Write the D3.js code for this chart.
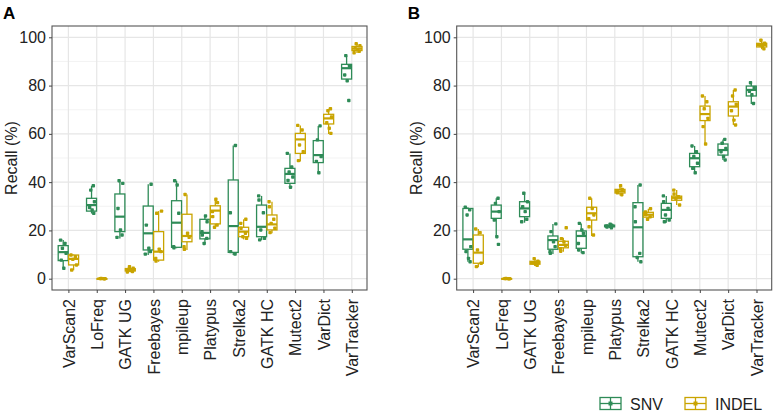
<!DOCTYPE html>
<html>
<head>
<meta charset="utf-8">
<script src="https://cdn.jsdelivr.net/npm/d3@7"></script>
<style>
  body { margin: 0; background: #fff; }
  svg { font-family: "Liberation Sans", Arial, sans-serif; }
</style>
</head>
<body>
<svg id="chart" width="775" height="414"></svg>
<script>
// Callers on the x axis
const tools = ['VarScan2', 'LoFreq', 'GATK UG', 'Freebayes', 'mpileup', 'Platypus',
  'Strelka2', 'GATK HC', 'Mutect2', 'VarDict', 'VarTracker'];
const yTicks = [0, 20, 40, 60, 80, 100];
const yMinor = [10, 30, 50, 70, 90];
const seriesNames = ['SNV', 'INDEL'];

// Box stats [min, q1, median, q3, max] per tool
const snvA = [[4.3, 7.5, 11, 13.7, 16], [27, 28, 30.5, 33.3, 38.5], [16.7, 19.5, 25.7, 35.1, 40.6],
  [9.8, 11.9, 18.8, 30.1, 39.1], [12.6, 13, 23.2, 32.3, 40.6], [14.2, 16.5, 19, 24.6, 26.4],
  [9.8, 10.9, 21.8, 40.9, 55.2], [16, 17.4, 21.5, 30.5, 34.3], [37.4, 39.5, 43.4, 45.7, 51.9],
  [43.6, 48.1, 51.2, 57.2, 63.3], [81.6, 82.7, 87.2, 88.8, 92.4]];
const indelA = [[3.5, 5.7, 8.2, 9.8, 10], [0, 0, 0, 0, 0.1], [2.8, 3.2, 3.6, 4.2, 5],
  [7, 7.7, 11.2, 19.5, 28], [11.9, 15.3, 17.7, 26.7, 34.9], [20.9, 22.7, 28.2, 30.2, 32.9],
  [16.3, 17.4, 19.5, 21.3, 24.6], [18.8, 20.2, 22.5, 26.4, 31.9], [48.5, 51.9, 57.7, 60.2, 63.5],
  [59.9, 64.1, 66.4, 68.1, 70.4], [93.5, 94.5, 95.3, 96.2, 97.3]];
const snvB = [[7, 12.2, 16.3, 29.1, 29.6], [17.4, 25, 27.8, 30.5, 33.3], [23.2, 25.7, 29.1, 31.9, 35.4],
  [10.2, 12.2, 16, 17.7, 22.7], [10.5, 12.6, 17.7, 19.8, 22.9], [21, 21.5, 21.8, 22.2, 22.6],
  [7, 9.1, 21.3, 31.5, 38.8], [23.2, 25, 28.5, 31.2, 34.3], [43.6, 46.4, 49.9, 51.9, 55],
  [49.2, 51.2, 53.3, 55.8, 57.7], [72.4, 75.7, 78.2, 79.8, 81.2]];
const indelB = [[4.7, 6.4, 10.8, 18.1, 20.6], [0, 0, 0, 0, 0.1], [5.3, 6, 6.5, 7.2, 8.3],
  [11.2, 12.8, 14, 15.5, 17], [17.7, 24.3, 27.1, 29.6, 33.3], [34.5, 35.5, 36.2, 37, 38.5],
  [24.5, 25.5, 26.5, 27.5, 29], [30.5, 32.5, 33.5, 34.2, 36.7], [55.8, 65.5, 68.2, 71.5, 75.7],
  [63.7, 67.4, 71.3, 73.3, 78.2], [95, 96, 96.8, 97.5, 98.8]];

// Individual sample recalls (jittered points)
const snvAPts = [[16, 14.6, 12.6, 10.5, 7.7, 4.3], [38.5, 36.7, 31.9, 29.5, 28.5, 27.1],
  [40.6, 39.5, 29.1, 20.2, 18.1, 17.1], [39.1, 22.2, 12.6, 11.2, 10.2], [40.6, 38.8, 27.1, 13.3, 12.8],
  [26, 23.6, 19.5, 18.1, 16.7, 14.6], [55.2, 27.3, 11.2, 10.2], [34.3, 32.6, 27.3, 20.2, 16.7, 16.1],
  [51.9, 46.3, 44.2, 42.1, 40.7, 37.9], [63.3, 57.5, 50.6, 48.6, 43.9], [92.4, 88.1, 84.4, 82, 73.8]];
const indelAPts = [[9.8, 9.1, 8, 5.7, 3.6], [0, 0.1, 0, 0.05], [5, 4.3, 3.8, 3.4, 3, 2.8],
  [28, 27.1, 12.2, 11.2, 8.4, 7.3], [34.9, 18.8, 17.1, 13.3, 12.2], [32.9, 31.5, 27.8, 25.7, 22.2, 21.3],
  [24.6, 22.9, 20.9, 18.8, 17.4, 16.7], [31.9, 29.8, 24.6, 22.9, 20.9, 19.1], [63.5, 61.6, 55.4, 52.6, 48.9],
  [70.4, 69.6, 67, 64.6, 62.3, 60.2], [97.3, 96.5, 95.6, 95, 94.2, 93.6]];
const snvBPts = [[29.6, 28.5, 26.4, 13.3, 11.2, 8.4, 7], [33.3, 31.2, 27.8, 24.3, 17.4, 14.2],
  [35.4, 31.9, 29.8, 27.8, 24.6, 23.6], [22.7, 19.5, 15.3, 13.3, 11.2, 10.5], [22.9, 20.2, 18.8, 14.6, 11.9, 10.8],
  [22.6, 22.2, 21.8, 21.4, 21.1], [38.8, 29.8, 23.6, 10.5, 8.8, 7], [34.3, 31.9, 29.1, 26.4, 24.3, 23.6],
  [55, 52.6, 50.6, 47.8, 45.7, 43.9], [57.7, 56.1, 54, 52.6, 50.6, 49.2], [81.2, 79.1, 77.6, 76.2, 72.6]];
const indelBPts = [[20.6, 19.1, 11.9, 6.4, 5], [0, 0.1, 0, 0.05], [8.3, 7.3, 6.6, 6, 5.5],
  [21.1, 16.6, 15.2, 13.8, 12.4, 11.4], [33.3, 29.1, 26.4, 24.9, 21.5, 18.1], [38.5, 37, 36.2, 35.6, 34.8],
  [29, 27.6, 26.6, 25.6, 24.6], [36.7, 35.1, 34, 33.2, 30.5], [75.7, 73.3, 70.4, 66.4, 63, 55.8],
  [78.2, 75.7, 72.2, 69.6, 65.7, 63.7], [98.8, 97.6, 96.8, 96.2, 95.2]];

const colors = { SNV: '#2E8B57', INDEL: '#C9A400' };
const jitter = [-2.6, 1.8, -0.8, 2.9, -1.9, 0.6, 2.2, -2.9];

const svg = d3.select('#chart');

function drawPanel(label, left, right, snv, indel, snvPts, indelPts, titleX) {
  const top = 26, bottom = 290;
  const step = 28.34;
  const x = d3.scalePoint().domain(tools).range([left + 16.4, left + 16.4 + step * 10]);
  const y = d3.scaleLinear().domain([0, 100]).range([278.7, 37.3]);
  const g = svg.append('g');

  // Grid
  g.selectAll('.minor').data(yMinor).enter().append('line')
    .attr('x1', left).attr('x2', right)
    .attr('y1', d => y(d)).attr('y2', d => y(d))
    .attr('stroke', '#f0f0f0').attr('stroke-width', 0.8);
  g.selectAll('.major').data(yTicks).enter().append('line')
    .attr('x1', left).attr('x2', right)
    .attr('y1', d => y(d)).attr('y2', d => y(d))
    .attr('stroke', '#e6e6e6').attr('stroke-width', 1.2);
  g.selectAll('.vgrid').data(tools).enter().append('line')
    .attr('x1', d => x(d)).attr('x2', d => x(d))
    .attr('y1', top).attr('y2', bottom)
    .attr('stroke', '#e6e6e6').attr('stroke-width', 1.2);

  // Boxes
  const series = [
    { name: 'SNV', stats: snv, pts: snvPts, off: -5.2 },
    { name: 'INDEL', stats: indel, pts: indelPts, off: 5.2 }
  ];
  const bw = 10;
  series.forEach(s => {
    const col = colors[s.name];
    tools.forEach((t, i) => {
      const [mn, q1, md, q3, mx] = s.stats[i];
      const cx = x(t) + s.off;
      g.append('line').attr('x1', cx).attr('x2', cx).attr('y1', y(mx)).attr('y2', y(q3))
        .attr('stroke', col).attr('stroke-width', 1.3);
      g.append('line').attr('x1', cx).attr('x2', cx).attr('y1', y(q1)).attr('y2', y(mn))
        .attr('stroke', col).attr('stroke-width', 1.3);
      g.append('rect').attr('x', cx - bw / 2).attr('width', bw)
        .attr('y', y(q3)).attr('height', Math.max(0.5, y(q1) - y(q3)))
        .attr('fill', 'none').attr('stroke', col).attr('stroke-width', 1.3);
      g.append('line').attr('x1', cx - bw / 2).attr('x2', cx + bw / 2)
        .attr('y1', y(md)).attr('y2', y(md))
        .attr('stroke', col).attr('stroke-width', 2.2);
      g.selectAll(null).data(s.pts[i]).enter().append('rect')
        .attr('x', (d, j) => cx + jitter[(j + i) % jitter.length] - 1.7)
        .attr('y', d => y(d) - 1.7)
        .attr('width', 3.4).attr('height', 3.4).attr('rx', 0.8)
        .attr('fill', col);
    });
  });

  // Border
  g.append('rect').attr('x', left).attr('y', top)
    .attr('width', right - left).attr('height', bottom - top)
    .attr('fill', 'none').attr('stroke', '#555').attr('stroke-width', 1.1);

  // Y axis
  const ya = g.append('g').attr('transform', `translate(${left},0)`)
    .call(d3.axisLeft(y).tickValues(yTicks).tickSize(3).tickPadding(3));
  ya.select('.domain').remove();
  ya.selectAll('line').attr('stroke', '#444');
  ya.selectAll('text').attr('fill', '#222').style('font-size', '16px');

  // X axis
  const xa = g.append('g').attr('transform', `translate(0,${bottom})`)
    .call(d3.axisBottom(x).tickSize(3).tickPadding(3));
  xa.select('.domain').remove();
  xa.selectAll('line').attr('stroke', '#444');
  xa.selectAll('text')
    .attr('fill', '#222').style('font-size', '16px')
    .attr('transform', 'rotate(-90)')
    .attr('text-anchor', 'end')
    .attr('x', -9).attr('y', 0).attr('dy', '0.35em');

  // Axis title
  svg.append('text')
    .attr('transform', `translate(${titleX},${(top + bottom) / 2}) rotate(-90)`)
    .attr('text-anchor', 'middle')
    .style('font-size', '16px').attr('fill', '#222')
    .text('Recall (%)');

  // Panel tag
  svg.append('text').attr('x', left - 49).attr('y', 19)
    .style('font-size', '17px').style('font-weight', 'bold')
    .text(label);
}

drawPanel('A', 52, 367, snvA, indelA, snvAPts, indelAPts, 17);
drawPanel('B', 456.7, 771.7, snvB, indelB, snvBPts, indelBPts, 422);

// Legend
const legendPos = [{ x: 599, tx: 630 }, { x: 684, tx: 715 }];
const leg = svg.append('g');
seriesNames.forEach((name, i) => {
  const p = legendPos[i];
  const col = colors[name];
  leg.append('rect').attr('x', p.x + 1).attr('y', 397.5).attr('width', 21).attr('height', 12)
    .attr('fill', 'none').attr('stroke', col).attr('stroke-width', 1.3);
  leg.append('line').attr('x1', p.x + 1).attr('x2', p.x + 22).attr('y1', 403.5).attr('y2', 403.5)
    .attr('stroke', col).attr('stroke-width', 1.3);
  leg.append('line').attr('x1', p.x + 11.5).attr('x2', p.x + 11.5).attr('y1', 397.5).attr('y2', 409.5)
    .attr('stroke', col).attr('stroke-width', 1.3);
  leg.append('rect').attr('x', p.x + 9.5).attr('y', 401.5).attr('width', 4).attr('height', 4)
    .attr('fill', col);
  leg.append('text').attr('x', p.tx).attr('y', 409.5)
    .style('font-size', '16px').attr('fill', '#222').text(name);
});
</script>
</body>
</html>
